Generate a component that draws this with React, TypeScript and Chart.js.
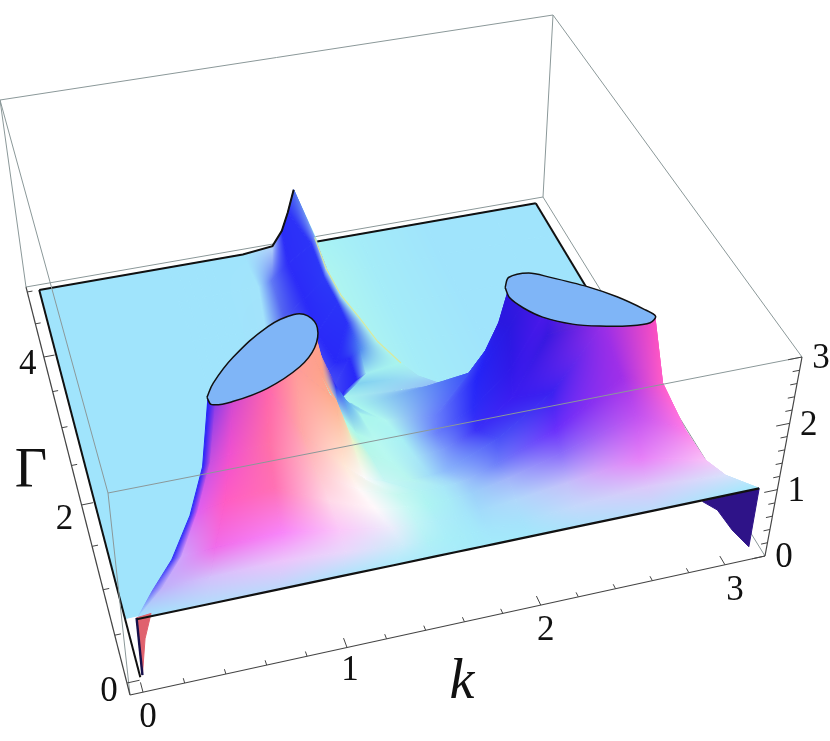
import { useEffect, useRef } from "react";
import { Chart, registerables } from "chart.js";

Chart.register(...registerables);

// Surface samples, one row per Γ, each row holding the same 16 mesh columns.
const gammaRows = [0, 0.2, 0.4, 0.6, 0.75, 0.9, 1.1, 1.3, 1.5, 1.7, 1.9, 2.05, 2.2, 2.6, 3, 3.5, 4, 4.5, 4.9];
const kRows = [
  [0.07, 0.07, 0.4, 0.75, 1.05, 1.3, 1.5, 1.6, 1.66, 1.72, 1.78, 1.95, 2.2, 2.55, 3.05, 3.05],
  [0.17, 0.22, 0.45, 0.8, 1.1, 1.38, 1.5, 1.6, 1.66, 1.72, 1.78, 1.95, 2.2, 2.55, 2.93, 2.93],
  [0.29, 0.34, 0.5, 0.82, 1.1, 1.35, 1.48, 1.58, 1.66, 1.72, 1.78, 1.95, 2.2, 2.55, 2.87, 2.87],
  [0.41, 0.45, 0.58, 0.82, 1.08, 1.3, 1.46, 1.56, 1.66, 1.72, 1.78, 1.95, 2.2, 2.55, 2.8, 2.8],
  [0.5, 0.54, 0.63, 0.82, 1.05, 1.25, 1.43, 1.55, 1.66, 1.72, 1.78, 1.92, 2.2, 2.5, 2.7, 2.7],
  [0.56, 0.6, 0.68, 0.84, 1.0, 1.2, 1.3, 1.4, 1.52, 1.62, 1.7, 1.95, 2.2, 2.42, 2.66, 2.66],
  [0.5, 0.63, 0.75, 0.9, 1.0, 1.19, 1.27, 1.36, 1.46, 1.58, 1.72, 1.88, 2.05, 2.2, 2.58, 2.8],
  [0.6, 0.74, 0.85, 0.98, 1.1, 1.16, 1.24, 1.32, 1.42, 1.55, 1.72, 1.9, 2.08, 2.25, 2.48, 2.75],
  [0.7, 0.85, 0.95, 1.05, 1.15, 1.18, 1.25, 1.3, 1.37, 1.5, 1.75, 1.95, 2.1, 2.2, 2.38, 2.7],
  [0.9, 1.04, 1.07, 1.1, 1.13, 1.17, 1.22, 1.27, 1.32, 1.4, 1.95, 2.03, 2.09, 2.13, 2.2, 2.4],
  [0.95, 1.0, 1.03, 1.06, 1.1, 1.15, 1.2, 1.25, 1.3, 1.35, 1.86, 2.0, 2.2, 2.5, 2.8, 3.05],
  [0.92, 0.97, 1.02, 1.07, 1.12, 1.17, 1.24, 1.3, 1.38, 1.45, 1.76, 1.9, 2.1, 2.45, 2.8, 3.05],
  [0.9, 0.95, 1.0, 1.05, 1.1, 1.15, 1.25, 1.34, 1.47, 1.52, 1.7, 1.85, 2.05, 2.4, 2.8, 3.05],
  [0.85, 0.9, 0.95, 1.0, 1.05, 1.1, 1.2, 1.34, 1.5, 1.56, 1.65, 1.78, 2.0, 2.4, 2.8, 3.05],
  [0.85, 0.9, 0.95, 1.0, 1.05, 1.1, 1.15, 1.35, 1.5, 1.56, 1.63, 1.75, 2.0, 2.4, 2.8, 3.05],
  [0.85, 0.9, 0.95, 1.0, 1.05, 1.1, 1.22, 1.36, 1.48, 1.6, 1.62, 1.74, 2.0, 2.4, 2.8, 3.05],
  [0.85, 0.9, 0.95, 1.0, 1.05, 1.1, 1.27, 1.38, 1.5, 1.62, 1.63, 1.73, 2.0, 2.4, 2.8, 3.05],
  [0.85, 0.9, 0.95, 1.0, 1.05, 1.1, 1.32, 1.4, 1.5, 1.64, 1.66, 1.74, 2.0, 2.4, 2.8, 3.05],
  [0.85, 0.9, 0.95, 1.0, 1.05, 1.1, 1.3, 1.48, 1.54, 1.58, 1.62, 1.75, 2.0, 2.4, 2.8, 3.05],
];
const heightRows = [
  [1.08, 1.08, 1.08, 1.08, 1.08, 1.08, 1.08, 1.08, 1.08, 1.08, 1.08, 1.08, 1.08, 1.08, 1.08, 1.08],
  [1.2, 1.21, 1.22, 1.24, 1.18, 1.1, 1.07, 1.06, 1.06, 1.06, 1.06, 1.08, 1.14, 1.22, 1.14, 1.14],
  [1.35, 1.37, 1.4, 1.42, 1.28, 1.15, 1.12, 1.1, 1.1, 1.1, 1.12, 1.18, 1.28, 1.42, 1.2, 1.2],
  [1.7, 1.74, 1.8, 1.85, 1.5, 1.25, 1.16, 1.14, 1.14, 1.15, 1.17, 1.28, 1.5, 1.85, 1.5, 1.5],
  [2.2, 2.25, 2.3, 2.35, 1.75, 1.38, 1.2, 1.17, 1.17, 1.18, 1.2, 1.35, 1.7, 2.3, 2.1, 2.1],
  [3, 3, 3, 3, 2.2, 1.6, 1.35, 1.25, 1.2, 1.2, 1.22, 1.55, 2.1, 3, 3, 3],
  [0, 3, 3, 3, 3, 2.38, 1.7, 1.42, 1.3, 1.27, 1.3, 1.5, 1.9, 2.75, 3, 0],
  [0, 3, 3, 3, 3, 2.5, 1.9, 1.55, 1.38, 1.32, 1.33, 1.6, 2.1, 3, 3, 0],
  [0, 3, 3, 3, 3, 2.6, 2.1, 1.85, 1.6, 1.42, 1.35, 1.8, 2.5, 3, 3, 0],
  [0, 3, 3, 3, 3, 2.7, 2.1, 1.8, 1.6, 1.45, 1.65, 1.95, 2.35, 2.85, 3, 0],
  [0, 0, 0, 0, 0, 0.1, 0.5, 0.9, 1.2, 1.4, 1.3, 0, 0, 0, 0, 0],
  [0, 0, 0, 0, 0, 0.05, 0.35, 0.75, 1.3, 1.38, 1.32, 0.1, 0, 0, 0, 0],
  [0, 0, 0, 0, 0, 0, 0.15, 0.6, 1.25, 1.32, 1.38, 0.15, 0, 0, 0, 0],
  [0, 0, 0, 0, 0, 0, 0.05, 0.34, 1.1, 1.2, 1.28, 0.1, 0, 0, 0, 0],
  [0, 0, 0, 0, 0, 0, 0.03, 0.2, 0.55, 1.15, 1.18, 0.1, 0, 0, 0, 0],
  [0, 0, 0, 0, 0, 0, 0.02, 0.14, 0.42, 0.85, 0.95, 0.08, 0, 0, 0, 0],
  [0, 0, 0, 0, 0, 0, 0.01, 0.12, 0.35, 0.62, 0.77, 0.06, 0, 0, 0, 0],
  [0, 0, 0, 0, 0, 0, 0.01, 0.08, 0.3, 0.55, 0.65, 0.04, 0, 0, 0, 0],
  [0.05, 0.05, 0.05, 0.05, 0.05, 0.05, 0.05, 0.1, 0.32, 0.6, 0.95, 0.05, 0.05, 0.05, 0.05, 0.05],
];
const colourRows = [
  "a0e4fc a0e4fc b4dcfb bcd8fb b0e2fb b0eafb acecfa a8ecfa a6ecfa a4eafa a4eafb a4e8fb aee0fb bcdcfb a0eafc a0eafc",
  "6a6cf8 c0b0fa d4c0fb ecc4fb e8d8fb ccecfa b0f0f6 a8eef8 a6ecf8 a4eafa a4e6fb a6e2fb c4d8fb dcc8fa d8e0fb d8e0fb",
  "3030f8 d0a0fb f06cea f884f8 fbc8fa ececfb c0f4f6 aeeef8 a8eaf9 a4e6fa a2dcfb b0d8fb c4c0fa e680f8 f8c0f8 f8c0f8",
  "2a2cfa e060f0 ff5cc4 ff70b4 ffd8e8 fff8fb c8f8f4 aef4f2 a8ecf6 a4e0f9 9cd0fa a2b4fa 8a6cfa c050f0 fc7ae8 fc7ae8",
  "2626fa c850e0 f050d0 ff70a8 ffc4cc fff8f8 c8f8f0 b2f3f2 a8e8f8 a2d8f9 98c0fa 6f80fa 6a2ffb a02fe8 ff5cc8 ff5cc8",
  "2424f8 8a3ae8 d048d0 ff64ac ffa8a8 ffe8d8 fbfafb c8f6f4 b8f5ef a0dcf8 8cb8fb 4a50f8 3a20f0 9a2ee6 f84cc0 f84cc0",
  "2424f8 2424f8 e050c0 ff74a0 ff9a98 fdae8c e8f4c8 b8f6ea b8f8f0 a8e8f6 7c9cfa 3a30f8 3a1cf0 3818e0 c840d0 a0e4fc",
  "2424f8 2424f8 f060b0 ff8098 ffa090 fda088 a8f8e8 b0f8e8 b8f8f0 a8f0f4 6a80fa 2c2cf8 3018e8 5018e8 c040d0 a0e4fc",
  "a0e4fc 2424f8 f060b0 ff8098 ffa090 fda088 2a30f8 58a0f0 a8f6ec b0f6f0 6880fa 2424f8 2a18e0 4018e0 a030e0 a0e4fc",
  "a0e4fc 2424f8 3030f0 3030f0 3030f0 2a2cf8 2a2cf8 2a30f8 58a0f0 a8f6ee 3a50f8 2626f4 2a18e0 2a18e0 5018e0 a0e4fc",
  "a0e4fc a0e4fc a0e4fc a0e4fc a0e4fc a0e4fc 8aa0fa 2a2cf8 2a2cf8 a8f4ee 90b8f8 a8ecf6 a0e4fc a0e4fc a0e4fc a0e4fc",
  "a0e4fc a0e4fc a0e4fc a0e4fc a0e4fc a0e4fc 90b0fa 2a2cf8 2a2cf8 80d0f0 a0e0f4 a8ecf6 a0e8f8 a0e4fc a0e4fc a0e4fc",
  "a0e4fc a0e4fc a0e4fc a0e4fc a0e4fc a0e4fc 9ac0fa 3a3af8 2828f8 a0ecf0 a8f4ee a8f2f2 a0e8f8 a0e4fc a0e4fc a0e4fc",
  "a0e4fc a0e4fc a0e4fc a0e4fc a0e4fc a0e4fc a4d4fb 5a68f4 2828f8 5088f0 aef5ee aaf4f0 a2eaf8 a0e4fc a0e4fc a0e4fc",
  "a0e4fc a0e4fc a0e4fc a0e4fc a0e4fc a0e4fc a4dcfb 6a7cf2 2828f8 2a30f8 b0f5ec aef5f0 a4ecf8 a0e4fc a0e4fc a0e4fc",
  "a0e4fc a0e4fc a0e4fc a0e4fc a0e4fc a0e4fc a2e0fb 7a90f4 2a2af8 2a34f8 b0f5ee aef5f0 a4ecf8 a0e4fc a0e4fc a0e4fc",
  "a0e4fc a0e4fc a0e4fc a0e4fc a0e4fc a0e4fc a2e2fb 5060f0 2a2af8 2c38f8 a8d8f8 aef5f0 a4ecf8 a0e4fc a0e4fc a0e4fc",
  "a0e4fc a0e4fc a0e4fc a0e4fc a0e4fc a0e4fc a2e4fb 6078f4 2c2cf8 2c34f8 80a0f6 aef5f0 a4ecf8 a0e4fc a0e4fc a0e4fc",
  "a0e4fc a0e4fc a0e4fc a0e4fc a0e4fc a0e4fc a0e4fc b4d4fa 2a2ef8 2c30f8 5070f0 a8f4f4 a4ecf8 a0e4fc a0e4fc a0e4fc",
];

// Rims of the two plateaus where the surface is cut off at the top of the box.
const capLeftK = [0.56, 0.61, 0.74, 0.95, 1.09, 1.15, 1.17, 1.12, 1.02, 0.84, 0.67, 0.57];
const capLeftGamma = [0.93, 1.09, 1.36, 1.66, 1.75, 1.7, 1.53, 1.29, 1.09, 0.9, 0.82, 0.83];
const capRightK = [2.09, 2.13, 2.23, 2.31, 2.45, 2.55, 2.63, 2.66, 2.62, 2.53, 2.4, 2.29, 2.18, 2.12, 2.085];
const capRightGamma = [1.6, 1.72, 1.73, 1.63, 1.42, 1.22, 1.0, 0.88, 0.81, 0.82, 0.89, 0.98, 1.14, 1.3, 1.46];

// Edges and the underside wedges at Γ = 0.
const backEdgeK = [0.07, 1.3, 1.48, 1.54, 1.58, 1.62];
const backEdgeZ = [0.05, 0.05, 0.1, 0.32, 0.6, 0.95];
const wedgeRightK = [3.05, 3.05, 2.95, 2.86, 2.78];
const wedgeRightZ = [1.08, 0.2, 0.52, 0.88, 1.06];
const wedgeLeftK = [0.07, 0.07, 0.1, 0.14];
const wedgeLeftZ = [1.1, 0.25, 0.77, 1.12];
const crestRowsFrom = 12;

// Axis ticks and labels.
const kTicks = [0, 0.2, 0.4, 0.6, 0.8, 1, 1.2, 1.4, 1.6, 1.8, 2, 2.2, 2.4, 2.6, 2.8, 3];
const kLabels = ["0", "1", "2", "3"];
const gammaTicks = [0, 0.5, 1, 1.5, 2, 2.5, 3, 3.5, 4, 4.5, 5];
const gammaLabels = ["0", "2", "4"];
const zTicks = [0, 0.2, 0.4, 0.6, 0.8, 1, 1.2, 1.4, 1.6, 1.8, 2, 2.2, 2.4, 2.6, 2.8, 3];
const zLabels = ["0", "1", "2", "3"];

const KMAX = Math.PI;
const GMAX = 5;
const ZMAX = 3;
type Pt = { x: number; y: number };
const lerp = (a: Pt, b: Pt, t: number): Pt => ({ x: a.x + (b.x - a.x) * t, y: a.y + (b.y - a.y) * t });

// The corners of the plot box as they appear on the picture.
const box = {
  A: { x: 130, y: 695 },
  B: { x: 765, y: 556 },
  C: { x: 543, y: 197 },
  D: { x: 26, y: 287 },
  E: { x: 108, y: 493 },
  F: { x: 802, y: 357 },
  G: { x: 553, y: 15 },
  H: { x: 0, y: 100 },
};
const frame = (u: number, v: number, w: number): Pt => {
  const low = lerp(lerp(box.A, box.B, u), lerp(box.D, box.C, u), v);
  const high = lerp(lerp(box.E, box.F, u), lerp(box.H, box.G, u), v);
  return lerp(low, high, w);
};
const project = (k: number, g: number, z: number): Pt => frame(k / KMAX, g / GMAX, z / ZMAX);
// Axis ticks are foreshortened by the camera.
const tickU = (k: number) => ((213.2 * k + 143) / (0.0265 * k + 1) - 130) / 635;
const tickV = (g: number) => (695 - (683 - 63.4 * g) / (0.0507 * g + 1)) / 408;

const hex = (s: string) => [parseInt(s.slice(0, 2), 16), parseInt(s.slice(2, 4), 16), parseInt(s.slice(4, 6), 16)];

const node = (r: number, c: number) => project(kRows[r][c], gammaRows[r], heightRows[r][c]);
const tone = (r: number, c: number) => hex(colourRows[r].split(" ")[c]);
const clamp01 = (v: number) => (v < 0 ? 0 : v > 1 ? 1 : v);

// Fill for one cell: the colours read at its four corners, blended across the cell.
function cellShade(a: Pt, b: Pt, e: Pt, d: Pt, ca: number[], cb: number[], ce: number[], cd: number[]) {
  const pad = 3;
  const x0 = Math.floor(Math.min(a.x, b.x, e.x, d.x)) - pad;
  const y0 = Math.floor(Math.min(a.y, b.y, e.y, d.y)) - pad;
  const w = Math.ceil(Math.max(a.x, b.x, e.x, d.x)) + pad - x0 + 1;
  const h = Math.ceil(Math.max(a.y, b.y, e.y, d.y)) + pad - y0 + 1;
  const off = document.createElement("canvas");
  off.width = w;
  off.height = h;
  const octx = off.getContext("2d") as CanvasRenderingContext2D;
  const img = octx.createImageData(w, h);
  const bx = b.x - a.x;
  const by = b.y - a.y;
  const dx = d.x - a.x;
  const dy = d.y - a.y;
  const mx = a.x - b.x - d.x + e.x;
  const my = a.y - b.y - d.y + e.y;
  for (let py = 0; py < h; py++) {
    for (let px = 0; px < w; px++) {
      const qx = x0 + px + 0.5 - a.x;
      const qy = y0 + py + 0.5 - a.y;
      let s = 0.5;
      let t = 0.5;
      for (let it = 0; it < 6; it++) {
        const fx = s * bx + t * dx + s * t * mx - qx;
        const fy = s * by + t * dy + s * t * my - qy;
        const j11 = bx + t * mx;
        const j12 = dx + s * mx;
        const j21 = by + t * my;
        const j22 = dy + s * my;
        const det = j11 * j22 - j12 * j21;
        if (Math.abs(det) < 1e-6) break;
        s = clamp01(s - (fx * j22 - fy * j12) / det);
        t = clamp01(t - (fy * j11 - fx * j21) / det);
      }
      const o = (py * w + px) * 4;
      for (let ch = 0; ch < 3; ch++) {
        img.data[o + ch] =
          (1 - s) * (1 - t) * ca[ch] + s * (1 - t) * cb[ch] + s * t * ce[ch] + (1 - s) * t * cd[ch];
      }
      img.data[o + 3] = 255;
    }
  }
  octx.putImageData(img, 0, 0);
  const pattern = octx.createPattern(off, "no-repeat") as CanvasPattern;
  pattern.setTransform(new DOMMatrix().translate(x0, y0));
  return pattern;
}

function cell(r: number, c: number) {
  const a = node(r, c);
  const b = node(r, c + 1);
  const d = node(r + 1, c);
  const e = node(r + 1, c + 1);
  const paint = cellShade(a, b, e, d, tone(r, c), tone(r, c + 1), tone(r + 1, c + 1), tone(r + 1, c));
  return {
    data: [a, b, e, d, a],
    showLine: true,
    fill: "shape",
    backgroundColor: paint,
    borderColor: paint,
    borderWidth: 1,
    pointRadius: 0,
  };
}

const line = (data: (Pt | { x: number; y: null })[], color: string, width: number, extra: object = {}) => ({
  data,
  showLine: true,
  fill: false,
  borderColor: color,
  borderWidth: width,
  pointRadius: 0,
  spanGaps: false,
  ...extra,
});
const poly = (data: Pt[], color: string, border: string, width: number, extra: object = {}) => ({
  data: [...data, data[0]],
  showLine: true,
  fill: "shape",
  backgroundColor: color,
  borderColor: border,
  borderWidth: width,
  pointRadius: 0,
  ...extra,
});
const ticks = (list: Pt[][]) => {
  const out: any[] = [];
  list.forEach((seg) => out.push(seg[0], seg[1], { x: seg[0].x, y: null }));
  return out;
};

function buildDatasets() {
  const grey = "#8b9899";
  const axis = "#444444";
  const { A, B, C, D, E, F, G, H } = box;
  const sets: any[] = [];
  // behind the surface
  sets.push(line([H, G], grey, 1), line([D, C], grey, 1), line([D, H], grey, 1), line([C, G], grey, 1), line([B, C], grey, 1));
  const plane = [
    project(0.07, 4.9, 0.05),
    project(3.07, 4.9, 0.05),
    project(3.07, 1.0, 0),
    project(0.07, 0.9, 0),
  ];
  sets.push(poly(plane, "#a0e4fc", "#a0e4fc", 1));
  sets.push(line([project(3.07, 4.9, 0.05), project(3.07, 1.0, 0)], "#111111", 2));
  // the mesh, back row first
  for (let r = gammaRows.length - 2; r >= 0; r--) {
    for (let c = 14; c >= 10; c--) sets.push(cell(r, c));
    for (let c = 0; c <= 9; c++) sets.push(cell(r, c));
  }
  // back and left edges of the sheet
  sets.push(line(backEdgeK.map((k, i) => project(k, 4.9, backEdgeZ[i])), "#111111", 2));
  sets.push(line([project(1.75, 4.9, 0.05), project(3.07, 4.9, 0.05)], "#111111", 2));
  sets.push(line([project(0.07, 4.9, 0.05), project(0.07, 0.18, 0)], "#111111", 2));
  // crest highlight
  const crest = [];
  for (let r = gammaRows.length - 2; r >= crestRowsFrom; r--) crest.push(node(r, 10));
  sets.push(line(crest, "#d8e8a0", 1.2));
  // wedges
  sets.push(poly(wedgeRightK.map((k, i) => project(k, 0, wedgeRightZ[i])), "#2e1388", "#2e1388", 1));
  sets.push(poly(wedgeLeftK.map((k, i) => project(k, 0, wedgeLeftZ[i])), "#e0626e", "#e0626e", 1));
  sets.push(line([project(0.07, 0, 1.1), project(0.07, 0, 0.25)], "#16104a", 2.4));
  // plateaus
  sets.push(poly(capLeftK.map((k, i) => project(k, capLeftGamma[i], 3)), "#7fb5f7", "#111111", 1.5, { tension: 0.4 }));
  sets.push(poly(capRightK.map((k, i) => project(k, capRightGamma[i], 3)), "#7fb5f7", "#111111", 1.5, { tension: 0.3 }));
  // front edge
  sets.push(line(kRows[0].map((k) => project(k, 0, 1.08)), "#111111", 2.2));
  // in front of the surface
  sets.push(line([E, F], grey, 1), line([F, G], grey, 1), line([E, H], grey, 1), line([A, E], grey, 1));
  sets.push(line([A, B], axis, 1.2), line([A, D], axis, 1.2), line([B, F], axis, 1.2));
  sets.push(
    line(
      ticks(kTicks.map((k, i) => [frame(tickU(k), 0, 0), frame(tickU(k), i % 5 === 0 ? 0.024 : 0.012, 0)])),
      axis,
      1,
    ),
  );
  sets.push(
    line(
      ticks(gammaTicks.map((g, i) => [frame(0, tickV(g), 0), frame(i % 4 === 0 ? 0.02 : 0.01, tickV(g), 0)])),
      axis,
      1,
    ),
  );
  sets.push(
    line(
      ticks(zTicks.map((z, i) => [frame(1, 0, z / ZMAX), frame(i % 5 === 0 ? 0.98 : 0.99, 0, z / ZMAX)])),
      axis,
      1,
    ),
  );
  return sets.reverse();
}

const textPlugin = {
  id: "axisText",
  afterDraw(chart: any) {
    const ctx = chart.ctx;
    const sx = chart.scales.x;
    const sy = chart.scales.y;
    const put = (text: string, p: Pt, dx: number, dy: number, font: string) => {
      ctx.font = font;
      ctx.fillStyle = "#111111";
      ctx.textAlign = "center";
      ctx.textBaseline = "middle";
      ctx.fillText(text, sx.getPixelForValue(p.x) + dx, sy.getPixelForValue(p.y) + dy);
    };
    const tickFont = '35px "Liberation Serif"';
    const kOff = [[5, 26], [3, 23], [5, 26], [10, 26]];
    kLabels.forEach((t, i) => {
      const p = frame(tickU(Number(t)), 0, 0);
      put(t, p, kOff[i][0], kOff[i][1], tickFont);
    });
    const gOff = [[-18, 9], [-17, 15], [-16, 8]];
    gammaLabels.forEach((t, i) => {
      const p = frame(0, tickV(Number(t)), 0);
      put(t, p, gOff[i][0], gOff[i][1], tickFont);
    });
    zLabels.forEach((t) => {
      put(t, frame(1, 0, Number(t) / ZMAX), 19, 2, tickFont);
    });
    ctx.save();
    put("\u0393", { x: 31, y: 472 }, 0, 0, '56px "Liberation Serif"');
    put("k", { x: 462, y: 683 }, 0, 0, 'italic 56px "Liberation Serif"');
    ctx.restore();
  },
};

export default function App() {
  const ref = useRef<HTMLCanvasElement>(null);
  useEffect(() => {
    const chart = new Chart(ref.current as HTMLCanvasElement, {
      type: "scatter",
      data: { datasets: buildDatasets() },
      options: {
        animation: false,
        responsive: false,
        events: [],
        layout: { padding: 0 },
        plugins: { legend: { display: false }, tooltip: { enabled: false } },
        scales: {
          x: { type: "linear", min: 0, max: 830, display: false },
          y: { type: "linear", min: 0, max: 741, reverse: true, display: false },
        },
      },
      plugins: [textPlugin],
    } as any);
    return () => chart.destroy();
  }, []);
  return (
    <canvas
      ref={ref}
      width={830}
      height={741}
      style={{ position: "absolute", left: 0, top: 0, display: "block" }}
    />
  );
}
